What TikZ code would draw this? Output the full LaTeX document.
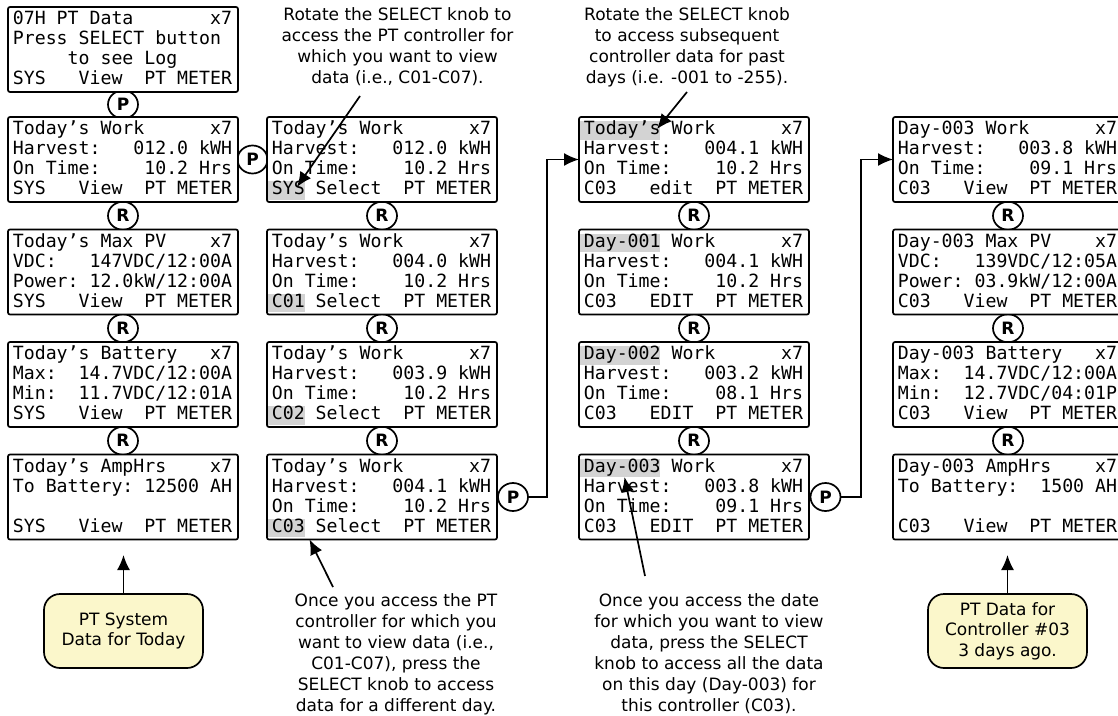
\documentclass[tikz,border=0pt]{standalone}
\usepackage{fontspec}
\setmainfont{DejaVu Sans}
\newfontfamily\lcdfont{DejaVu Sans Mono}
\usetikzlibrary{arrows.meta,shapes.geometric,calc}
\definecolor{hlgray}{RGB}{211,211,211}
\definecolor{noteyellow}{RGB}{251,247,203}
\tikzset{
  lcd/.style={draw, fill=white, line width=1.7pt, rounded corners=2pt, minimum width=230pt, minimum height=85pt, inner sep=0pt, outer sep=0pt, anchor=north west},
  lcdtxt/.style={anchor=base west, inner sep=0pt, font=\lcdfont\fontsize{18.2}{20}\selectfont\frenchspacing},
  knob/.style={draw, ellipse, line width=1.7pt, minimum width=30pt, minimum height=28pt, inner sep=0pt, fill=white, font=\bfseries\fontsize{17}{17}\selectfont},
  note/.style={align=center, inner sep=0pt, anchor=north, font=\fontsize{17}{21}\selectfont},
  tag/.style={draw, line width=1.7pt, rounded corners=16pt, fill=noteyellow, minimum width=159pt, minimum height=74pt, inner sep=0pt, align=center, font=\fontsize{17}{20.5}\selectfont},
  flow/.style={line width=1.7pt, -{Latex[length=15pt,width=13pt]}},
}
\newcommand\LCD[9]{%
  \node[lcd] (#1) at (#2,#3) {};
  \ifnum#4>0
    \fill[hlgray] ($(#1.north west)+(0.85,{20*#4-16})$) rectangle ++({4.7+10.95*#5-0.85},18.5);
  \fi
  \node[lcdtxt] (#1-1) at ($(#1.north west)+(4.7,17.5)$) {#6};
  \node[lcdtxt] (#1-2) at ($(#1.north west)+(4.7,37.5)$) {#7};
  \node[lcdtxt] (#1-3) at ($(#1.north west)+(4.7,57.5)$) {#8};
  \node[lcdtxt] (#1-4) at ($(#1.north west)+(4.7,77.5)$) {#9};
}
\begin{document}
\begin{tikzpicture}[x=1pt,y=-1pt]
\useasboundingbox (0,0) rectangle (1118,715);
\fill[white] (0,0) rectangle (1118,715);
\clip (0,0) rectangle (1118,715);

% knobs
\node[knob] (kp1) at (123,104.5) {P};
\node[knob] (kr1) at (123,215.75) {R};
\node[knob] (kr2) at (123,328.25) {R};
\node[knob] (kr3) at (123,440.75) {R};
\node[knob] (kp2) at (252.5,159.5) {P};
\node[knob] (kr4) at (382,215.75) {R};
\node[knob] (kr5) at (382,328.25) {R};
\node[knob] (kr6) at (382,440.75) {R};
\node[knob] (kp3) at (513,497) {P};
\node[knob] (kr7) at (694,215.75) {R};
\node[knob] (kr8) at (694,328.25) {R};
\node[knob] (kr9) at (694,440.75) {R};
\node[knob] (kp4) at (825.5,497) {P};
\node[knob] (kr10) at (1008,215.75) {R};
\node[knob] (kr11) at (1008,328.25) {R};
\node[knob] (kr12) at (1008,440.75) {R};

% column 1
\LCD{a0}{8}{7}{0}{0}{07H~PT~Data~~~~~~~x7}{Press~SELECT~button}{~~~~~to~see~Log}{SYS~~~View~~PT~METER}
\LCD{a1}{8}{117}{0}{0}{Today’s~Work~~~~~~x7}{Harvest:~~~012.0~kWH}{On~Time:~~~~10.2~Hrs}{SYS~~~View~~PT~METER}
\LCD{a2}{8}{229.5}{0}{0}{Today’s~Max~PV~~~~x7}{VDC:~~~147VDC/12:00A}{Power:~12.0kW/12:00A}{SYS~~~View~~PT~METER}
\LCD{a3}{8}{342}{0}{0}{Today’s~Battery~~~x7}{Max:~~14.7VDC/12:00A}{Min:~~11.7VDC/12:01A}{SYS~~~View~~PT~METER}
\LCD{a4}{8}{454.5}{0}{0}{Today’s~AmpHrs~~~~x7}{To~Battery:~12500~AH}{}{SYS~~~View~~PT~METER}

% column 2
\LCD{b1}{267}{117}{4}{3}{Today’s~Work~~~~~~x7}{Harvest:~~~012.0~kWH}{On~Time:~~~~10.2~Hrs}{SYS~Select~~PT~METER}
\LCD{b2}{267}{229.5}{4}{3}{Today’s~Work~~~~~~x7}{Harvest:~~~004.0~kWH}{On~Time:~~~~10.2~Hrs}{C01~Select~~PT~METER}
\LCD{b3}{267}{342}{4}{3}{Today’s~Work~~~~~~x7}{Harvest:~~~003.9~kWH}{On~Time:~~~~10.2~Hrs}{C02~Select~~PT~METER}
\LCD{b4}{267}{454.5}{4}{3}{Today’s~Work~~~~~~x7}{Harvest:~~~004.1~kWH}{On~Time:~~~~10.2~Hrs}{C03~Select~~PT~METER}

% column 3
\LCD{c1}{579}{117}{1}{7}{Today’s~Work~~~~~~x7}{Harvest:~~~004.1~kWH}{On~Time:~~~~10.2~Hrs}{C03~~~edit~~PT~METER}
\LCD{c2}{579}{229.5}{1}{7}{Day-001~Work~~~~~~x7}{Harvest:~~~004.1~kWH}{On~Time:~~~~10.2~Hrs}{C03~~~EDIT~~PT~METER}
\LCD{c3}{579}{342}{1}{7}{Day-002~Work~~~~~~x7}{Harvest:~~~003.2~kWH}{On~Time:~~~~08.1~Hrs}{C03~~~EDIT~~PT~METER}
\LCD{c4}{579}{454.5}{1}{7}{Day-003~Work~~~~~~x7}{Harvest:~~~003.8~kWH}{On~Time:~~~~09.1~Hrs}{C03~~~EDIT~~PT~METER}

% column 4
\LCD{d1}{893}{117}{0}{0}{Day-003~Work~~~~~~x7}{Harvest:~~~003.8~kWH}{On~Time:~~~~09.1~Hrs}{C03~~~View~~PT~METER}
\LCD{d2}{893}{229.5}{0}{0}{Day-003~Max~PV~~~~x7}{VDC:~~~139VDC/12:05A}{Power:~03.9kW/12:00A}{C03~~~View~~PT~METER}
\LCD{d3}{893}{342}{0}{0}{Day-003~Battery~~~x7}{Max:~~14.7VDC/12:00A}{Min:~~12.7VDC/04:01P}{C03~~~View~~PT~METER}
\LCD{d4}{893}{454.5}{0}{0}{Day-003~AmpHrs~~~~x7}{To~Battery:~~1500~AH}{}{C03~~~View~~PT~METER}

% connectors between columns
\coordinate (j1) at (547,497);
\draw[flow] (kp3.east) -- (j1) |- (c1.west);
\coordinate (j2) at (861,497);
\draw[flow] (kp4.east) -- (j2) |- (d1.west);

% notes
\node[note] (n1) at (397.5,7.8) {Rotate the SELECT knob to\\access the PT controller for\\which you want to view\\data (i.e., C01-C07).};
\node[note] (n2) at (687,7.8) {Rotate the SELECT knob\\to access subsequent\\controller data for past\\days (i.e. -001 to -255).};
\node[note] (n3) at (396,593.5) {Once you access the PT\\controller for which you\\want to view data (i.e.,\\C01-C07), press the\\SELECT knob to access\\data for a different day.};
\node[note] (n4) at (709,593.5) {Once you access the date\\for which you want to view\\data, press the SELECT\\knob to access all the data\\on this day (Day-003) for\\this controller (C03).};

\coordinate (t1) at (360,96);
\coordinate (h1) at (297,187);
\draw[flow] (t1) -- (h1);
\coordinate (t2) at (687,92);
\coordinate (h2) at (657,129);
\draw[flow] (t2) -- (h2);
\coordinate (t3) at (333,587);
\coordinate (h3) at (309.5,539.5);
\draw[flow] (t3) -- (h3);
\coordinate (t4) at (645,576);
\coordinate (h4) at (624.5,477);
\draw[flow] (t4) -- (h4);

% tags
\node[tag] (g1) at (123.5,631) {PT System\\Data for Today};
\coordinate (g1tip) at (123.5,555);
\draw[flow] (g1.north) -- (g1tip);
\node[tag] (g2) at (1007.5,631) {PT Data for\\Controller \#03\\3 days ago.};
\coordinate (g2tip) at (1007.5,555);
\draw[flow] (g2.north) -- (g2tip);
\end{tikzpicture}
\end{document}
